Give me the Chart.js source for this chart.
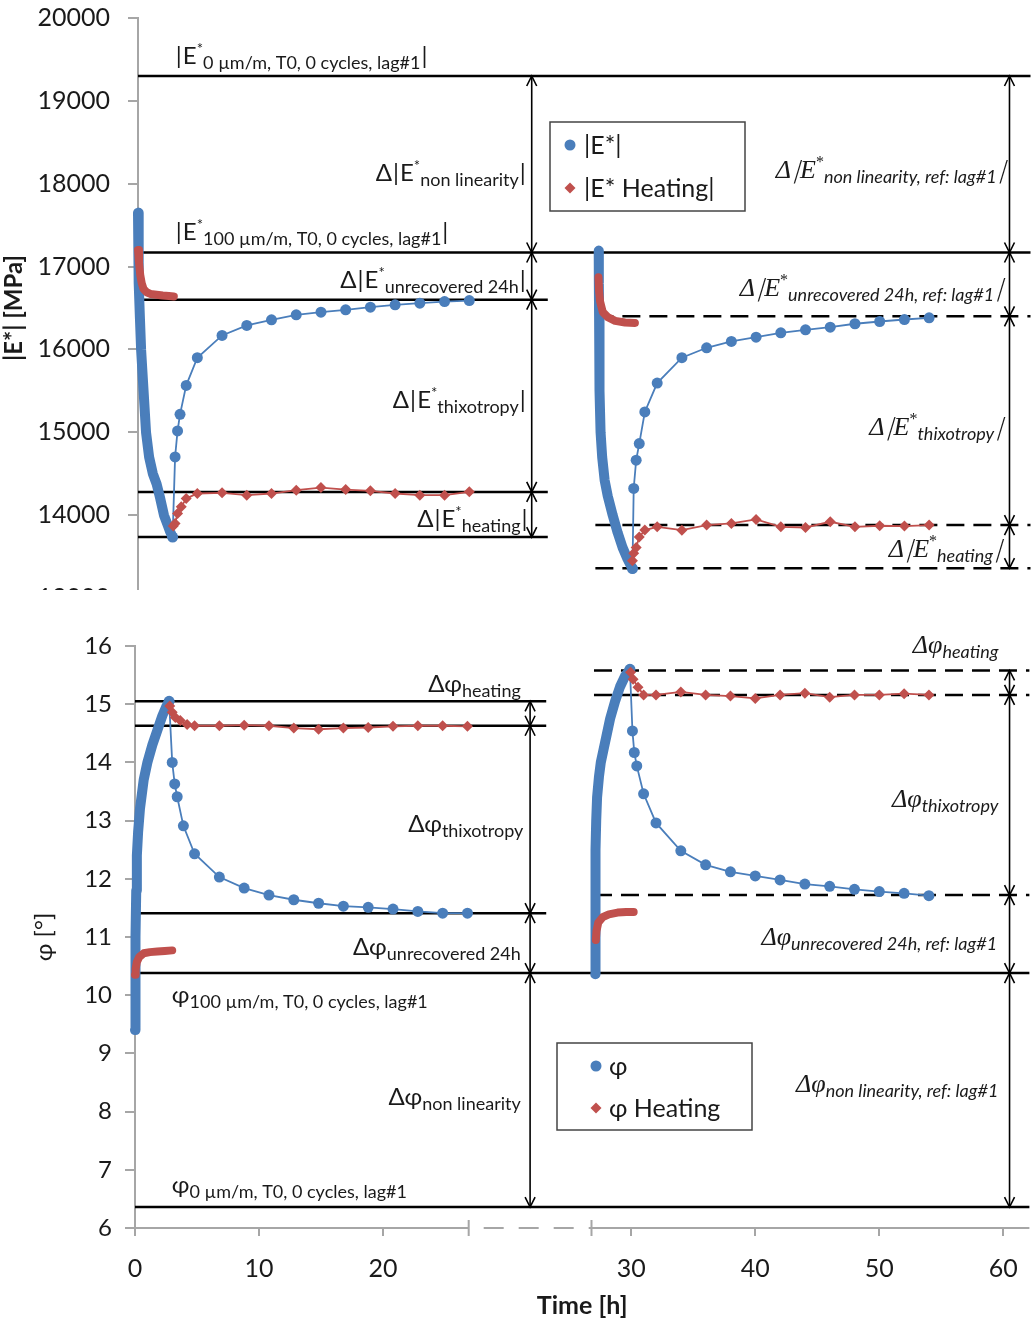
<!DOCTYPE html>
<html><head><meta charset="utf-8">
<script src="https://cdn.jsdelivr.net/npm/chart.js@4.4.0/dist/chart.umd.min.js"></script>
<style>
html,body{margin:0;padding:0;background:#fff;width:1036px;height:1321px;overflow:hidden}
#topWrap{position:absolute;left:0;top:0;width:1036px;height:590px;overflow:hidden}
#top{position:absolute;left:0;top:-15px}
#bot{position:absolute;left:0;top:600px}
</style></head><body>
<div id="topWrap"><canvas id="top" width="1036" height="646"></canvas></div>
<canvas id="bot" width="1036" height="721"></canvas>
<script>
// ---------------- DATA ----------------
// time axis: tick labels, and the axis break between the two test phases
const X_TICK_LABELS = [0, 10, 20, 30, 40, 50, 60];
const AXIS_BREAK_GAP = 10;      // axis units skipped between lag#1 and lag#2 segments
const AXIS_SEG1_END = 26.9;     // h, end of first axis segment
const AXIS_SEG2_START = 26.8;   // h, start of second axis segment

// |E*| (MPa) - lag#1
const T_E1_LOAD = [0, 0.03, 0.08, 0.15, 0.25, 0.45, 0.65, 0.9, 1.2, 1.5, 1.8, 2.1, 2.4, 2.6, 2.8];
const E1_LOAD   = [17650, 17200, 16800, 16400, 16000, 15500, 15000, 14700, 14500, 14380, 14200, 14000, 13880, 13800, 13735];
const T_E1_REC  = [2.8, 3.0, 3.2, 3.4, 3.9, 4.8, 6.8, 8.8, 10.8, 12.8, 14.8, 16.8, 18.8, 20.8, 22.8, 24.8, 26.8];
const E1_REC    = [13735, 14703, 15016, 15217, 15566, 15900, 16169, 16289, 16358, 16418, 16450, 16478, 16510, 16538, 16558, 16578, 16590];
const T_EH1_LOAD = [0, 0.08, 0.18, 0.3, 0.45, 0.7, 1.0, 1.5, 2.0, 2.5, 2.9];
const EH1_LOAD   = [17200, 17050, 16900, 16800, 16730, 16690, 16670, 16660, 16650, 16645, 16640];
const T_EH1_REC  = [2.85, 3.0, 3.2, 3.5, 3.9, 4.8, 6.8, 8.8, 10.8, 12.8, 14.8, 16.8, 18.8, 20.8, 22.8, 24.8, 26.8];
const EH1_REC    = [13870, 13900, 14020, 14100, 14200, 14261, 14269, 14241, 14261, 14301, 14333, 14309, 14293, 14261, 14241, 14241, 14281];
// |E*| (MPa) - lag#2
const T_E2_LOAD = [27.27, 27.28, 27.3, 27.32, 27.35, 27.42, 27.55, 27.75, 28.0, 28.4, 28.8, 29.2, 29.6, 30.0];
const E2_LOAD   = [17190, 16800, 16400, 16000, 15500, 15000, 14700, 14420, 14230, 14000, 13790, 13610, 13470, 13355];
const T_E2_REC  = [30.0, 30.1, 30.3, 30.55, 31.0, 32, 34, 36, 38, 40, 42, 44, 46, 48, 50, 52, 54];
const E2_REC    = [13355, 14322, 14663, 14864, 15245, 15594, 15900, 16020, 16096, 16148, 16201, 16237, 16269, 16310, 16337, 16361, 16382];
const T_EH2_LOAD = [27.25, 27.3, 27.38, 27.6, 28.0, 28.6, 29.4, 30.2];
const EH2_LOAD   = [16870, 16700, 16580, 16450, 16390, 16345, 16325, 16320];
const T_EH2_REC  = [30.0, 30.1, 30.3, 30.55, 31.0, 32, 34, 36, 38, 40, 42, 44, 46, 48, 50, 52, 54];
const EH2_REC    = [13450, 13540, 13610, 13735, 13820, 13859, 13819, 13880, 13900, 13948, 13859, 13851, 13920, 13859, 13872, 13868, 13880];

// phi (deg) - lag#1
const T_P1_LOAD = [0, 0.02, 0.04, 0.06, 0.1, 0.15, 0.25, 0.4, 0.7, 1.0, 1.4, 1.8, 2.2, 2.5, 2.75];
const P1_LOAD   = [9.4, 9.7, 10.3, 11.0, 11.8, 12.4, 12.8, 13.2, 13.7, 14.0, 14.3, 14.55, 14.8, 14.95, 15.05];
const T_P1_REC  = [2.75, 3.0, 3.2, 3.4, 3.9, 4.8, 6.8, 8.8, 10.8, 12.8, 14.8, 16.8, 18.8, 20.8, 22.8, 24.8, 26.8];
const P1_REC    = [15.05, 14.0, 13.63, 13.41, 12.91, 12.43, 12.03, 11.84, 11.72, 11.64, 11.58, 11.53, 11.51, 11.48, 11.44, 11.41, 11.41];
const T_PH1_LOAD = [0, 0.05, 0.15, 0.35, 0.7, 1.2, 1.8, 2.4, 3.0];
const PH1_LOAD   = [10.35, 10.45, 10.57, 10.66, 10.72, 10.74, 10.75, 10.76, 10.77];
const T_PH1_REC  = [2.8, 3.0, 3.25, 3.65, 4.2, 4.8, 6.8, 8.8, 10.8, 12.8, 14.8, 16.8, 18.8, 20.8, 22.8, 24.8, 26.8];
const PH1_REC    = [14.97, 14.86, 14.77, 14.72, 14.65, 14.63, 14.63, 14.64, 14.63, 14.59, 14.57, 14.59, 14.60, 14.62, 14.63, 14.63, 14.62];
// phi (deg) - lag#2
const T_P2_LOAD = [27.1, 27.11, 27.12, 27.14, 27.18, 27.25, 27.4, 27.55, 27.75, 28.0, 28.3, 28.7, 29.1, 29.5, 29.9];
const P2_LOAD   = [10.36, 11.0, 11.8, 12.5, 13.0, 13.4, 13.75, 14.0, 14.2, 14.45, 14.75, 15.05, 15.3, 15.48, 15.6];
const T_P2_REC  = [29.9, 30.1, 30.25, 30.45, 31.0, 32, 34, 36, 38, 40, 42, 44, 46, 48, 50, 52, 54];
const P2_REC    = [15.6, 14.54, 14.17, 13.94, 13.46, 12.96, 12.48, 12.24, 12.12, 12.05, 11.98, 11.91, 11.87, 11.82, 11.78, 11.75, 11.71];
const T_PH2_LOAD = [27.15, 27.2, 27.35, 27.7, 28.2, 28.9, 29.6, 30.2];
const PH2_LOAD   = [10.95, 11.1, 11.25, 11.34, 11.39, 11.42, 11.43, 11.43];
const T_PH2_REC  = [29.95, 30.15, 30.55, 31.0, 32, 34, 36, 38, 40, 42, 44, 46, 48, 50, 52, 54];
const PH2_REC    = [15.55, 15.43, 15.29, 15.16, 15.16, 15.21, 15.16, 15.14, 15.10, 15.16, 15.19, 15.12, 15.16, 15.16, 15.18, 15.16];

// reference levels (full lines: idx 0,1; partial: idx 2..4)
const E_LEVELS_LAG1 = [19300, 17170, 16600, 14280, 13735];
const E_LEVELS_LAG2 = [19300, 17170, 16400, 13880, 13360];
const PHI_LEVELS_LAG1 = [6.36, 10.38, 11.41, 14.63, 15.05];
const PHI_LEVELS_LAG2 = [6.36, 10.38, 11.72, 15.16, 15.58];

const LEGEND_E = ['|E*|', '|E* Heating|'];
const LEGEND_PHI = ['φ', 'φ Heating'];

// ---------------- STYLE ----------------
const BLUE = '#4a7ebb', RED = '#c0504d', AXIS_GREY = '#a6a6a6', INK = '#1a1a1a';
const FONT_L = 'Lato, "DejaVu Sans", sans-serif';
const FONT_SERIF = '"Liberation Serif", "DejaVu Serif", serif';
Chart.defaults.font.family = FONT_L;
Chart.defaults.color = INK;

const U_ARROW_L = 31.85, U_LEFT_END = 33.15, U_RIGHT_START = 37, U_ARROW_R = 70.5;

const ST_PLAIN = {main: `24px ${FONT_L}`, sup: `15px ${FONT_L}`, sub: `18px ${FONT_L}`, supDy: -10, subDy: 5, skew: false};
const ST_ITAL = {main: `italic 26px ${FONT_SERIF}`, sup: `16px ${FONT_SERIF}`, sub: `italic 18px ${FONT_L}`, supDy: -11, subDy: 5, skew: true};

const LABELS_TOP = [
  {u: 2.98, v: 19446, align: 'left', main: '|E', sup: '*', sub: '0 µm/m, T0, 0 cycles, lag#1', end: '|', st: ST_PLAIN},
  {u: 31.45, v: 18036, align: 'right', main: 'Δ|E', sup: '*', sub: 'non linearity', end: '|', st: ST_PLAIN},
  {u: 2.98, v: 17325, align: 'left', main: '|E', sup: '*', sub: '100 µm/m, T0, 0 cycles, lag#1', end: '|', st: ST_PLAIN},
  {u: 31.45, v: 16747, align: 'right', main: 'Δ|E', sup: '*', sub: 'unrecovered 24h', end: '|', st: ST_PLAIN},
  {u: 31.45, v: 15289, align: 'right', main: 'Δ|E', sup: '*', sub: 'thixotropy', end: '|', st: ST_PLAIN},
  {u: 31.6, v: 13855, align: 'right', main: 'Δ|E', sup: '*', sub: 'heating', end: '|', st: ST_PLAIN},
  {u: 70.2, v: 18072, align: 'right', main: 'Δ|E', sup: '*', sub: 'non linearity, ref: lag#1', end: '|', st: ST_ITAL},
  {u: 70.0, v: 16650, align: 'right', main: 'Δ|E', sup: '*', sub: 'unrecovered 24h, ref: lag#1', end: '|', st: ST_ITAL},
  {u: 70.0, v: 14964, align: 'right', main: 'Δ|E', sup: '*', sub: 'thixotropy', end: '|', st: ST_ITAL},
  {u: 69.9, v: 13494, align: 'right', main: 'Δ|E', sup: '*', sub: 'heating', end: '|', st: ST_ITAL}
];
const LABELS_BOT = [
  {u: 31.1, v: 15.21, align: 'right', main: 'Δφ', sub: 'heating', st: ST_PLAIN},
  {u: 31.3, v: 12.8, align: 'right', main: 'Δφ', sub: 'thixotropy', st: ST_PLAIN},
  {u: 31.1, v: 10.69, align: 'right', main: 'Δφ', sub: 'unrecovered 24h', st: ST_PLAIN},
  {u: 2.97, v: 9.87, align: 'left', main: 'φ', sub: '100 µm/m, T0, 0 cycles, lag#1', st: ST_PLAIN},
  {u: 31.1, v: 8.11, align: 'right', main: 'Δφ', sub: 'non linearity', st: ST_PLAIN},
  {u: 2.97, v: 6.6, align: 'left', main: 'φ', sub: '0 µm/m, T0, 0 cycles, lag#1', st: ST_PLAIN},
  {u: 69.6, v: 15.88, align: 'right', main: 'Δφ', sub: 'heating', st: ST_ITAL},
  {u: 69.6, v: 13.23, align: 'right', main: 'Δφ', sub: 'thixotropy', st: ST_ITAL},
  {u: 69.5, v: 10.86, align: 'right', main: 'Δφ', sub: 'unrecovered 24h, ref: lag#1', st: ST_ITAL},
  {u: 69.6, v: 8.34, align: 'right', main: 'Δφ', sub: 'non linearity, ref: lag#1', st: ST_ITAL}
];

// ---------------- HELPERS ----------------
function axisPos(t, lag) { return lag === 2 ? t + AXIS_BREAK_GAP : t; }
function pts(ts, vs, lag) { return ts.map((t, i) => ({x: axisPos(t, lag), y: vs[i]})); }
function band(label, ts, vs, lag, color, w, order) {
  return {label, data: pts(ts, vs, lag), showLine: true, borderColor: color, backgroundColor: color,
    borderWidth: w, pointRadius: 0, borderCapStyle: 'round', borderJoinStyle: 'round', order, clip: 12};
}
function series(label, ts, vs, lag, color, style, order) {
  return {label, data: pts(ts, vs, lag), showLine: true, borderColor: color, backgroundColor: color,
    borderWidth: 1.8, pointRadius: 5.5, pointStyle: style, pointBackgroundColor: color,
    pointBorderColor: color, pointBorderWidth: 0, order, clip: 12};
}

function drawRich(ctx, x, y, L) {
  const st = L.st, segs = [];
  const add = (t, f, dy) => { if (t) segs.push({t, f, dy}); };
  add(L.main, st.main, 0); add(L.sup, st.sup, st.supDy); add(L.sub, st.sub, st.subDy); add(L.end, st.main, 0);
  const parts = [];
  segs.forEach(s => s.t.split(/(\|)/).filter(Boolean).forEach(p => parts.push({t: p, f: s.f, dy: s.dy})));
  let w = 0;
  parts.forEach(p => { ctx.font = p.f; p.w = ctx.measureText(p.t).width + (p.t === '|' ? 2 : 0); w += p.w; });
  let cx = L.align === 'right' ? x - w : x;
  ctx.fillStyle = INK; ctx.textAlign = 'left'; ctx.textBaseline = 'alphabetic';
  parts.forEach(p => {
    ctx.font = p.f;
    if (p.t === '|' && st.skew) {
      ctx.save(); ctx.translate(cx + 1, y + p.dy); ctx.transform(1, 0, -0.3, 1, 0, 0);
      ctx.fillText('|', 0, 0); ctx.restore();
    } else ctx.fillText(p.t, cx + (p.t === '|' ? 1 : 0), y + p.dy);
    cx += p.w;
  });
}
function head(ctx, x, y, dir) {
  ctx.beginPath(); ctx.moveTo(x - 5, y + dir * 10); ctx.lineTo(x, y); ctx.lineTo(x + 5, y + dir * 10); ctx.stroke();
}
function arrow(ctx, x, yA, yB) {
  ctx.beginPath(); ctx.moveTo(x, yA); ctx.lineTo(x, yB); ctx.stroke();
  head(ctx, x, yA, yB > yA ? 1 : -1); head(ctx, x, yB, yA > yB ? 1 : -1);
}
function drawMarker(ctx, style, x, y, color) {
  ctx.fillStyle = color; ctx.beginPath();
  if (style === 'circle') ctx.arc(x, y, 5.5, 0, Math.PI * 2);
  else { ctx.moveTo(x, y - 5.5); ctx.lineTo(x + 5.5, y); ctx.lineTo(x, y + 5.5); ctx.lineTo(x - 5.5, y); ctx.closePath(); }
  ctx.fill();
}

function annotPlugin(levL, levR, labels, legend, broken) {
  return {
    id: 'annot',
    beforeDatasetsDraw(chart) {
      const {ctx, chartArea: a, scales: {x, y}} = chart;
      ctx.save();
      ctx.strokeStyle = '#000'; ctx.lineWidth = 2.5; ctx.lineCap = 'butt';
      const hline = (v, x0, x1, dash) => {
        ctx.setLineDash(dash ? [18, 9] : []);
        ctx.beginPath(); ctx.moveTo(x0, y.getPixelForValue(v)); ctx.lineTo(x1, y.getPixelForValue(v)); ctx.stroke();
      };
      const xL = x.getPixelForValue(U_LEFT_END), xR = x.getPixelForValue(U_RIGHT_START);
      [0, 1].forEach(i => hline(levL[i], a.left, a.right, false));
      [2, 3, 4].forEach(i => hline(levL[i], a.left, xL, false));
      [2, 3, 4].forEach(i => hline(levR[i], xR, a.right, true));
      ctx.setLineDash([]); ctx.lineWidth = 1.6;
      const xa = x.getPixelForValue(U_ARROW_L), xb = x.getPixelForValue(U_ARROW_R);
      for (let i = 0; i < 4; i++) {
        arrow(ctx, xa, y.getPixelForValue(levL[i]), y.getPixelForValue(levL[i + 1]));
        arrow(ctx, xb, y.getPixelForValue(levR[i]), y.getPixelForValue(levR[i + 1]));
      }
      if (broken) {
        const yb = a.bottom;
        const e1 = x.getPixelForValue(AXIS_SEG1_END), s2 = x.getPixelForValue(axisPos(AXIS_SEG2_START, 2));
        ctx.strokeStyle = AXIS_GREY; ctx.lineWidth = 2;
        ctx.beginPath(); ctx.moveTo(a.left, yb); ctx.lineTo(e1, yb); ctx.moveTo(s2, yb); ctx.lineTo(a.right, yb);
        ctx.moveTo(e1, yb - 8); ctx.lineTo(e1, yb + 8); ctx.moveTo(s2, yb - 8); ctx.lineTo(s2, yb + 8); ctx.stroke();
        ctx.setLineDash([20, 15]); ctx.lineDashOffset = -15;
        ctx.beginPath(); ctx.moveTo(e1, yb); ctx.lineTo(s2, yb); ctx.stroke();
      }
      ctx.restore();
    },
    afterDatasetsDraw(chart) {
      const {ctx, scales: {x, y}} = chart;
      ctx.save();
      labels.forEach(L => drawRich(ctx, x.getPixelForValue(L.u), y.getPixelForValue(L.v), L));
      const g = legend;
      ctx.strokeStyle = '#444'; ctx.lineWidth = 1.5; ctx.setLineDash([]);
      ctx.strokeRect(g.x, g.y, g.w, g.h);
      ctx.font = `25px ${FONT_L}`; ctx.textBaseline = 'alphabetic'; ctx.textAlign = 'left';
      g.items.forEach((it, i) => {
        drawMarker(ctx, it.style, g.x + g.mx, g.y + g.my[i], it.color);
        ctx.fillStyle = INK; ctx.fillText(it.text, g.x + g.tx, g.y + g.my[i] + 9);
      });
      ctx.restore();
    }
  };
}

const baseOpts = {responsive: false, animation: false, devicePixelRatio: 1, events: [],
  plugins: {legend: {display: false}, tooltip: {enabled: false}}};

// ---------------- TOP CHART (canvas shifted up 15px) ----------------
new Chart(document.getElementById('top'), {
  type: 'scatter',
  data: {datasets: [
    band(LEGEND_E[0], T_E1_LOAD, E1_LOAD, 1, BLUE, 10, 2),
    series(LEGEND_E[0], T_E1_REC, E1_REC, 1, BLUE, 'circle', 2),
    band(LEGEND_E[0], T_E2_LOAD, E2_LOAD, 2, BLUE, 10, 2),
    series(LEGEND_E[0], T_E2_REC, E2_REC, 2, BLUE, 'circle', 2),
    band(LEGEND_E[1], T_EH1_LOAD, EH1_LOAD, 1, RED, 8, 1),
    series(LEGEND_E[1], T_EH1_REC, EH1_REC, 1, RED, 'rectRot', 1),
    band(LEGEND_E[1], T_EH2_LOAD, EH2_LOAD, 2, RED, 8, 1),
    series(LEGEND_E[1], T_EH2_REC, EH2_REC, 2, RED, 'rectRot', 1)
  ]},
  options: Object.assign({}, baseOpts, {
    layout: {padding: {left: 0, top: 0, right: 3, bottom: 0}},
    scales: {
      x: {type: 'linear', display: false, min: 0, max: 72.2},
      y: {type: 'linear', min: 13000, max: 20000,
        ticks: {stepSize: 1000, callback: v => String(v), font: {size: 25}, padding: 18},
        grid: {drawOnChartArea: false, drawTicks: true, tickLength: 10, color: AXIS_GREY, lineWidth: 2},
        border: {display: true, color: AXIS_GREY, width: 2},
        title: {display: true, text: '|E*| [MPa]', font: {size: 24, weight: 'bold'}, padding: {top: 0, bottom: 0}},
        afterFit: s => { s.width = 138; }}
    }
  }),
  plugins: [annotPlugin(E_LEVELS_LAG1, E_LEVELS_LAG2, LABELS_TOP,
    {x: 550, y: 137, w: 195, h: 89, mx: 20, tx: 34, my: [23, 66],
     items: [{text: LEGEND_E[0], style: 'circle', color: BLUE}, {text: LEGEND_E[1], style: 'diamond', color: RED}]}, false)]
});

// ---------------- BOTTOM CHART ----------------
new Chart(document.getElementById('bot'), {
  type: 'scatter',
  data: {datasets: [
    band(LEGEND_PHI[0], T_P1_LOAD, P1_LOAD, 1, BLUE, 10, 2),
    series(LEGEND_PHI[0], T_P1_REC, P1_REC, 1, BLUE, 'circle', 2),
    band(LEGEND_PHI[0], T_P2_LOAD, P2_LOAD, 2, BLUE, 10, 2),
    series(LEGEND_PHI[0], T_P2_REC, P2_REC, 2, BLUE, 'circle', 2),
    band(LEGEND_PHI[1], T_PH1_LOAD, PH1_LOAD, 1, RED, 8, 1),
    series(LEGEND_PHI[1], T_PH1_REC, PH1_REC, 1, RED, 'rectRot', 1),
    band(LEGEND_PHI[1], T_PH2_LOAD, PH2_LOAD, 2, RED, 8, 1),
    series(LEGEND_PHI[1], T_PH2_REC, PH2_REC, 2, RED, 'rectRot', 1)
  ]},
  options: Object.assign({}, baseOpts, {
    layout: {padding: {left: 0, top: 46, right: 3, bottom: 0}},
    scales: {
      x: {type: 'linear', min: 0, max: 72.1,
        afterBuildTicks: s => { s.ticks = X_TICK_LABELS.map(l => ({value: axisPos(l, l > AXIS_SEG1_END ? 2 : 1)})); },
        ticks: {callback: v => String(Math.round(v > AXIS_SEG1_END ? v - AXIS_BREAK_GAP : v)), font: {size: 25}, padding: 18, maxRotation: 0, autoSkip: false},
        grid: {drawOnChartArea: false, drawTicks: true, tickLength: 8, color: AXIS_GREY, lineWidth: 2},
        border: {display: false},
        title: {display: true, text: 'Time [h]', font: {size: 25, weight: 'bold'}, padding: {top: 0, bottom: 0}},
        afterFit: s => { s.height = 93; }},
      y: {type: 'linear', min: 6, max: 16,
        ticks: {stepSize: 1, font: {size: 24}, padding: 13},
        grid: {drawOnChartArea: false, drawTicks: true, tickLength: 10, color: AXIS_GREY, lineWidth: 2},
        border: {display: true, color: AXIS_GREY, width: 2},
        title: {display: true, text: 'φ [°]', font: {size: 24}, padding: {top: 30, bottom: 0}},
        afterFit: s => { s.width = 135; }}
    }
  }),
  plugins: [annotPlugin(PHI_LEVELS_LAG1, PHI_LEVELS_LAG2, LABELS_BOT,
    {x: 557, y: 443, w: 195, h: 87, mx: 39, tx: 52, my: [23, 65],
     items: [{text: LEGEND_PHI[0], style: 'circle', color: BLUE}, {text: LEGEND_PHI[1], style: 'diamond', color: RED}]}, true)]
});
</script></body></html>
